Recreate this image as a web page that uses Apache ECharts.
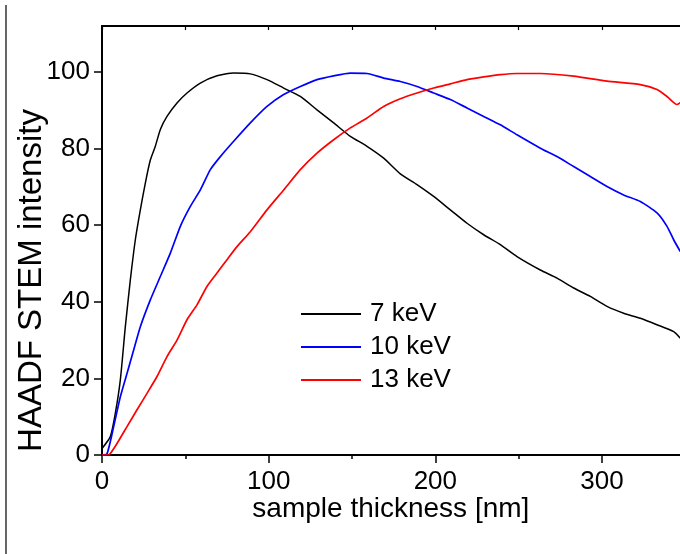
<!DOCTYPE html>
<html>
<head>
<meta charset="utf-8">
<script src="https://cdn.jsdelivr.net/npm/echarts@6/dist/echarts.min.js"></script>
<style>
html, body { margin: 0; padding: 0; background: #fff; }
#chart { width: 680px; height: 554px; }
</style>
</head>
<body>
<div id="chart"></div>
<script>
// sample thickness [nm] and HAADF intensity
var x7 = [0, 5, 8, 11, 14, 17, 20, 23, 26, 29, 32, 35, 39, 45, 51, 59, 69, 79, 89, 99, 109, 119, 129, 139, 149, 159, 169, 179, 189, 199, 209, 219, 229, 239, 249, 263, 273, 283, 293, 303, 313, 323, 333, 343, 347];
var y7 = [1.7, 4.8, 10.9, 19.6, 33.5, 45.7, 56.2, 64, 71, 77, 80.6, 85, 88.4, 91.9, 94.5, 97.1, 99, 99.7, 99.5, 98, 95.8, 93.6, 90.1, 86.7, 83.2, 80.6, 77.5, 73.4, 70.6, 67.5, 64, 60.5, 57.5, 54.9, 51.8, 48.3, 46.2, 43.6, 41.4, 38.8, 37, 35.7, 34, 32.2, 30.5];

var x10 = [0, 3, 7, 11, 15, 19, 23, 29, 35, 41, 47, 53, 59, 65, 71, 79, 89, 99, 109, 119, 129, 139, 149, 159, 169, 179, 189, 199, 209, 219, 229, 239, 249, 263, 273, 283, 293, 303, 313, 323, 333, 339, 343, 347];
var y10 = [0, 0.3, 7.4, 15.2, 21.3, 27.4, 33.5, 40.5, 46.6, 52.7, 59.7, 64.9, 69.2, 74.5, 77.9, 81.9, 86.7, 91, 94.1, 96.2, 98, 99, 99.7, 99.6, 98.4, 97.5, 96.2, 94.5, 92.8, 90.6, 88.4, 86.2, 83.6, 80.1, 77.9, 75.3, 72.7, 70.1, 67.9, 66.2, 63.2, 59.7, 56.2, 53.1];

var x13 = [0, 3, 5, 9, 15, 21, 27, 33, 39, 45, 51, 57, 63, 69, 75, 81, 89, 99, 109, 119, 129, 139, 149, 159, 169, 179, 189, 199, 209, 219, 229, 239, 249, 263, 283, 303, 323, 333, 339, 345, 347];
var y13 = [0, 0, 0.4, 3, 7.4, 11.8, 16.1, 20.5, 25.7, 30, 35.3, 39.2, 44, 47.5, 51, 54.4, 58.3, 64, 69.2, 74.5, 78.8, 82.3, 85.4, 88, 91, 93, 94.5, 95.8, 96.9, 98, 98.7, 99.3, 99.6, 99.6, 98.9, 97.6, 96.7, 95.4, 93.6, 91.5, 92];

var seriesNames = ['7 keV', '10 keV', '13 keV'];
var seriesColors = ['#000000', '#0000ff', '#ff0000'];
var yTicks = [0, 20, 40, 60, 80, 100];
var xTicks = [0, 100, 200, 300];

function pairs(xs, ys) {
    return xs.map(function (x, i) { return [x, ys[i]]; });
}

var font = '"Liberation Sans", Arial, sans-serif';

var chart = echarts.init(document.getElementById('chart'));
chart.setOption({
    animation: false,
    textStyle: { fontFamily: font },
    grid: {
        left: 102,
        top: 26,
        width: 666.67,
        height: 429,
        outerBoundsMode: 'none'
    },
    legend: {
        orient: 'vertical',
        left: 301,
        top: 301,
        padding: 0,
        itemWidth: 60,
        itemHeight: 2,
        itemGap: 7,
        icon: 'rect',
        data: seriesNames,
        textStyle: {
            fontFamily: font,
            fontSize: 26,
            lineHeight: 26,
            color: '#000',
            padding: [0, 0, 0, 4]
        }
    },
    xAxis: [{
        type: 'value',
        min: 0,
        max: 400,
        interval: 100,
        name: 'sample thickness [nm]',
        nameLocation: 'middle',
        nameGap: 40,
        nameMoveOverlap: false,
        nameTextStyle: {
            fontFamily: font,
            fontSize: 28,
            color: '#000',
            padding: [0, 89, 0, 0]
        },
        axisLine: { lineStyle: { color: '#000', width: 2 } },
        axisTick: { inside: false, length: 8, lineStyle: { color: '#000', width: 1.5 } },
        minorTick: { show: true, splitNumber: 2, length: 4, lineStyle: { color: '#000', width: 1.5 } },
        splitLine: { show: false },
        axisLabel: {
            fontFamily: font,
            fontSize: 26,
            color: '#000',
            margin: 14,
            formatter: function (v) { return xTicks.indexOf(v) >= 0 ? String(v) : ''; }
        }
    }, {
        type: 'value',
        position: 'top',
        min: 0,
        max: 400,
        interval: 100,
        axisLine: { lineStyle: { color: '#000', width: 2 } },
        axisTick: { inside: true, length: 4, lineStyle: { color: '#000', width: 1.2 } },
        minorTick: { show: true, splitNumber: 2, length: 4, lineStyle: { color: '#000', width: 1.2 } },
        splitLine: { show: false },
        axisLabel: { show: false }
    }],
    yAxis: {
        type: 'value',
        min: 0,
        max: 112,
        interval: 20,
        name: 'HAADF STEM intensity',
        nameLocation: 'middle',
        nameGap: 54,
        nameMoveOverlap: false,
        nameTextStyle: {
            fontFamily: font,
            fontSize: 33,
            color: '#000',
            padding: [0, 80, 0, 0]
        },
        axisLine: { show: true, lineStyle: { color: '#000', width: 2 } },
        axisTick: {
            show: true,
            inside: false,
            length: 8,
            customValues: yTicks,
            lineStyle: { color: '#000', width: 1.5 }
        },
        splitLine: { show: false },
        axisLabel: {
            fontFamily: font,
            fontSize: 26,
            color: '#000',
            margin: 12,
            customValues: yTicks
        }
    },
    graphic: [{
        type: 'line',
        shape: { x1: 6, y1: 5, x2: 6, y2: 554 },
        style: { stroke: '#000', lineWidth: 1.2 }
    }],
    series: [{
        name: seriesNames[0],
        type: 'line',
        data: pairs(x7, y7),
        symbol: 'none',
        smooth: 0.2,
        color: seriesColors[0],
        lineStyle: { width: 1.5 }
    }, {
        name: seriesNames[1],
        type: 'line',
        data: pairs(x10, y10),
        symbol: 'none',
        smooth: 0.2,
        color: seriesColors[1],
        lineStyle: { width: 1.7 }
    }, {
        name: seriesNames[2],
        type: 'line',
        data: pairs(x13, y13),
        symbol: 'none',
        smooth: 0.2,
        color: seriesColors[2],
        lineStyle: { width: 1.7 }
    }]
});
</script>
</body>
</html>
